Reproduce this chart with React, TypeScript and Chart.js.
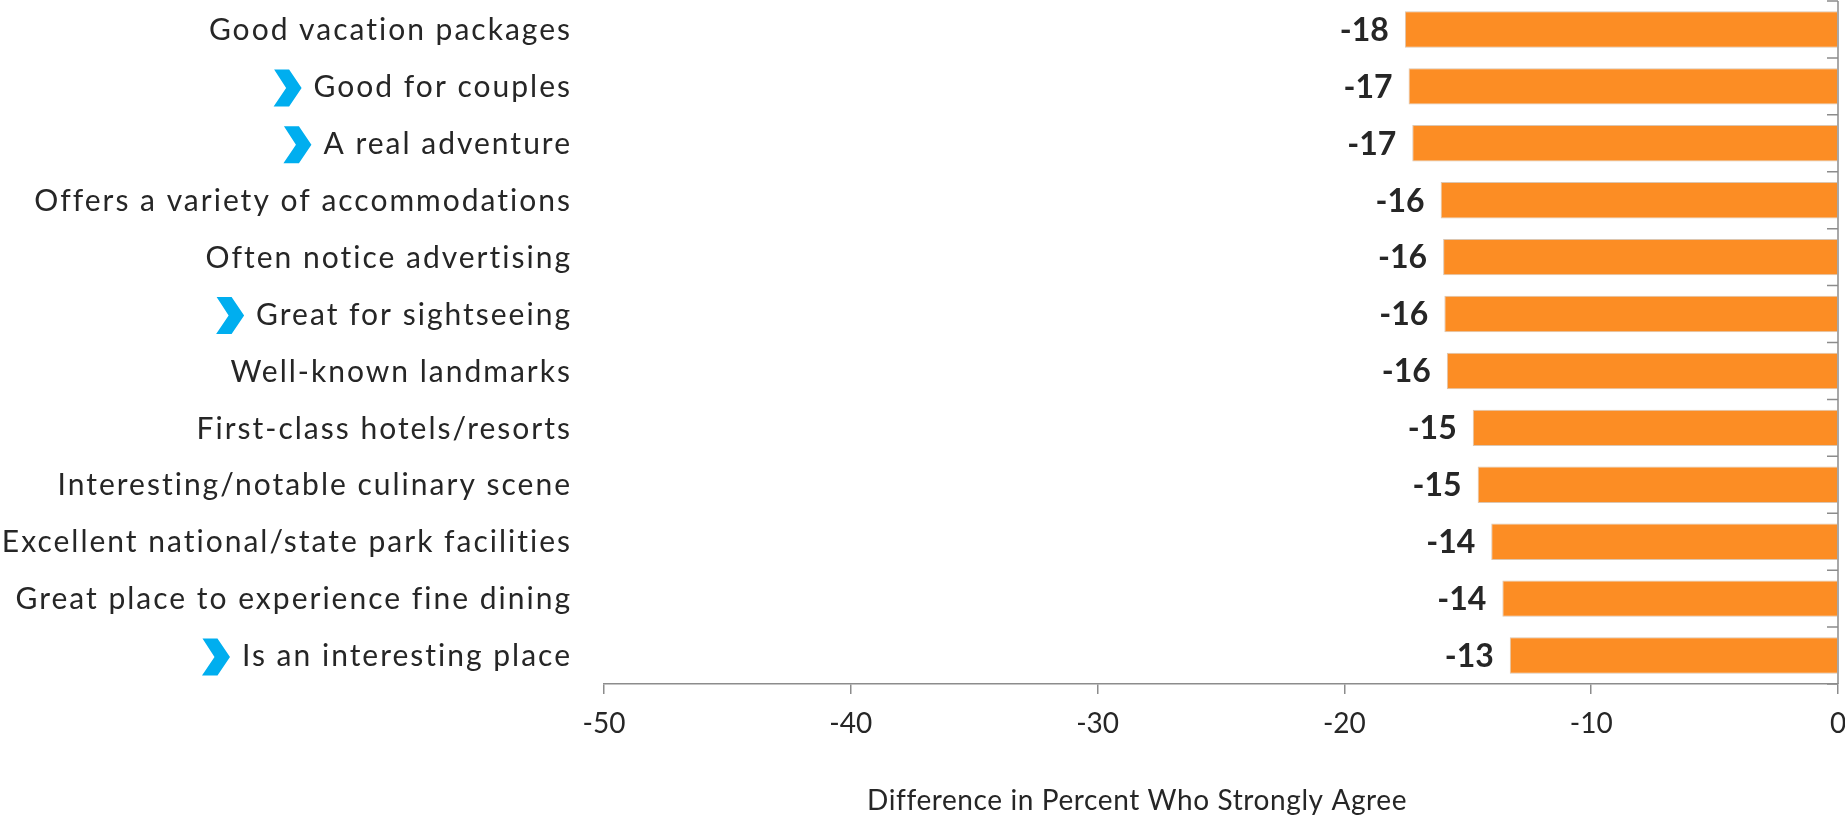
import React, { useEffect, useRef } from "react";
import { Chart, registerables } from "chart.js";

Chart.register(...registerables);

const categories = [
  "Good vacation packages",
  "Good for couples",
  "A real adventure",
  "Offers a variety of accommodations",
  "Often notice advertising",
  "Great for sightseeing",
  "Well-known landmarks",
  "First-class hotels/resorts",
  "Interesting/notable culinary scene",
  "Excellent national/state park facilities",
  "Great place to experience fine dining",
  "Is an interesting place",
];

const differenceValues = [
  -17.55, -17.4, -17.25, -16.1, -16.0, -15.95, -15.85, -14.8, -14.6, -14.05, -13.6, -13.3,
];

const valueLabels = ["-18", "-17", "-17", "-16", "-16", "-16", "-16", "-15", "-15", "-14", "-14", "-13"];

const highlighted = [false, true, true, false, false, true, false, false, false, false, false, true];

const xTickValues = [-50, -40, -30, -20, -10, 0];

const axisTitle = "Difference in Percent Who Strongly Agree";

const FONT = "Lato, 'Open Sans', sans-serif";
const TEXT = "#262626";
const AXIS = "#8c8c8c";
const BAR = "#FC8D24";
const CHEVRON = "#00AEEF";
const CAT_SIZE = 30;
const LABEL_PAD = 34;

const overlayPlugin = {
  id: "overlay",
  afterDatasetsDraw(chart: any) {
    const ctx = chart.ctx;
    const meta = chart.getDatasetMeta(0);
    ctx.save();
    ctx.font = `bold 32px ${FONT}`;
    ctx.fillStyle = TEXT;
    ctx.textAlign = "right";
    ctx.textBaseline = "middle";
    meta.data.forEach((el: any, i: number) => {
      ctx.fillText(valueLabels[i], el.x - 16, el.y + 1);
    });
    ctx.restore();
  },
  afterDraw(chart: any) {
    const ctx = chart.ctx;
    const xs = chart.scales.x;
    const ys = chart.scales.y;
    const area = chart.chartArea;
    ctx.save();
    // vertical axis line at zero with inward ticks at category boundaries
    const x0 = xs.getPixelForValue(0);
    ctx.strokeStyle = AXIS;
    ctx.lineWidth = 1.5;
    ctx.beginPath();
    ctx.moveTo(x0, area.top);
    ctx.lineTo(x0, area.bottom);
    const n = categories.length;
    const band = (ys.bottom - ys.top) / n;
    for (let i = 0; i <= n; i++) {
      const y = ys.top + i * band;
      ctx.moveTo(x0 - 11, y);
      ctx.lineTo(x0, y);
    }
    ctx.stroke();

    // category labels and chevrons
    ctx.font = `${CAT_SIZE}px ${FONT}`;
    (ctx as any).letterSpacing = "2px";
    ctx.textAlign = "right";
    ctx.textBaseline = "middle";
    const labelRight = ys.right - LABEL_PAD + 2;
    categories.forEach((c, i) => {
      const cy = ys.getPixelForValue(i);
      ctx.fillStyle = TEXT;
      ctx.fillText(c, labelRight, cy + 1);
      if (!highlighted[i]) return;
      const w = ctx.measureText(c).width;
      const right = labelRight - w - 12;
      const left = right - 28;
      const ccy = cy + 1.5;
      const h = 37;
      const top = ccy - h / 2;
      ctx.fillStyle = CHEVRON;
      ctx.beginPath();
      ctx.moveTo(left + 0.5, top);
      ctx.lineTo(left + 15.5, top);
      ctx.lineTo(left + 28, ccy);
      ctx.lineTo(left + 15.5, top + h);
      ctx.lineTo(left, top + h);
      ctx.lineTo(left + 12.5, ccy);
      ctx.closePath();
      ctx.fill();
    });

    // axis title
    ctx.font = `28px ${FONT}`;
    (ctx as any).letterSpacing = "0.6px";
    ctx.fillStyle = TEXT;
    ctx.textAlign = "center";
    ctx.textBaseline = "alphabetic";
    const tx = area.left + (area.right - area.left) * 0.432;
    ctx.fillText(axisTitle, tx, 810);
    ctx.restore();
  },
};

export default function App() {
  const ref = useRef<HTMLCanvasElement | null>(null);

  useEffect(() => {
    document.body.style.margin = "0";
    const canvas = ref.current;
    if (!canvas) return;
    const chart = new Chart(canvas, {
      type: "bar",
      data: {
        labels: categories,
        datasets: [
          {
            data: differenceValues,
            backgroundColor: BAR,
            borderColor: "#dcc6b0",
            borderWidth: 1,
            barPercentage: 0.64,
            categoryPercentage: 1,
          },
        ],
      },
      options: {
        indexAxis: "y",
        responsive: false,
        animation: false,
        layout: { padding: { top: 1, right: 7, left: 0, bottom: 0 } },
        plugins: {
          legend: { display: false },
          tooltip: { enabled: false },
        },
        scales: {
          x: {
            type: "linear",
            min: -50,
            max: 0,
            afterBuildTicks: (scale: any) => {
              scale.ticks = xTickValues.map((v) => ({ value: v }));
            },
            ticks: {
              color: TEXT,
              font: { family: FONT, size: 28 },
              padding: 13,
              callback: (v: any) => String(v),
            },
            grid: {
              display: true,
              drawOnChartArea: false,
              drawTicks: true,
              tickLength: 10,
              color: AXIS,
              lineWidth: 1.5,
            },
            border: { display: true, color: AXIS, width: 1.5 },
            afterFit: (scale: any) => {
              scale.height = 134;
              scale.paddingLeft = 0;
              scale.paddingRight = 0;
            },
          },
          y: {
            type: "category",
            grid: { display: false, drawTicks: false },
            border: { display: false },
            ticks: { display: false, autoSkip: false },
            afterFit: (scale: any) => {
              scale.width = 604;
              scale.paddingTop = 0;
              scale.paddingBottom = 0;
            },
          },
        },
      } as any,
      plugins: [overlayPlugin],
    });
    return () => chart.destroy();
  }, []);

  return (
    <div style={{ width: 1845, height: 818, background: "#fff" }}>
      <canvas ref={ref} width={1845} height={818} style={{ display: "block" }} />
    </div>
  );
}
